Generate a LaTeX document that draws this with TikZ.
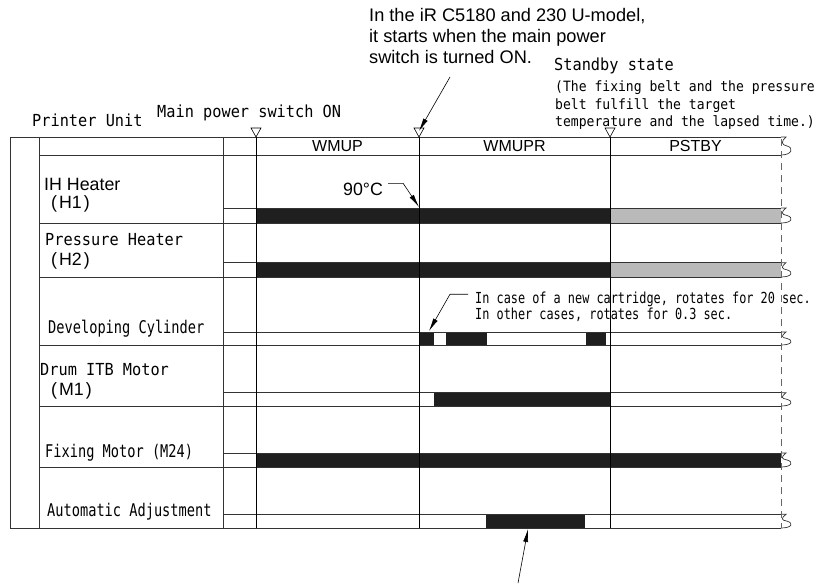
\documentclass[tikz,border=0pt]{standalone}
\usepackage{fontspec}
\setmainfont{Liberation Sans}
\newfontfamily\jmono[FakeStretch=0.92]{DejaVu Sans Mono}
\newfontfamily\jnarrow[FakeStretch=0.78]{DejaVu Sans Mono}
\usetikzlibrary{arrows.meta}

\begin{document}
\begin{tikzpicture}[
  x=1pt, y=-1pt,
  >={Latex[length=13pt,width=5pt]},
  every node/.style={inner sep=0pt, anchor=base west},
  rule/.style={draw=black!80, line width=0.7pt},
  phase/.style={draw=black, line width=0.8pt},
  onbar/.style={fill=black!88},
  idlebar/.style={fill=black!27},
  monolbl/.style={font=\fontsize{16.6}{19}\jmono},
  smallmono/.style={font=\fontsize{14.2}{16}\jmono},
  narrowlbl/.style={font=\fontsize{17.5}{20}\jnarrow},
  notetxt/.style={font=\fontsize{15.2}{18}\jnarrow},
  sanslbl/.style={font=\fontsize{17.8}{20}\selectfont},
  phaselbl/.style={font=\fontsize{16}{19}\selectfont, anchor=base},
  callout/.style={->, line width=0.6pt},
  marker/.style={draw=black, fill=white, line width=0.6pt},
]
  \useasboundingbox (0,0) rectangle (818,585);

  % signal bars
  \fill[onbar] (256,208) rectangle (610,223);
  \fill[idlebar] (610,208) rectangle (781,223);
  \fill[onbar] (256,262.7) rectangle (610,277);
  \fill[idlebar] (610,262.7) rectangle (781,277);
  \foreach \a/\z in {419/434, 445.7/487, 585.7/606.3}
    \fill[onbar] (\a,332) rectangle (\z,345);
  \fill[onbar] (434,392.7) rectangle (610,406);
  \fill[onbar] (256,453) rectangle (781,467);
  \fill[onbar] (486.3,514.3) rectangle (585,528);

  % rows, with the break mark at the right end
  \foreach \l/\t/\b in {10/137/155, 223/208/223, 223/262.7/277,
                        223/332/345, 223/392.7/406, 223/453/467,
                        223/514.3/528} {
    \pgfmathsetmacro\m{(\t+\b)/2}
    \draw[rule] (\l,\t) -- (781,\t);
    \draw[rule] (39,\b) -- (781,\b);
    \draw[rule] (781,\t) -- (786,\t) .. controls (781,\t+4) and (781,\m-1)
      .. (787,\m) .. controls (794,\m+2) and (792,\b) .. (781,\b);
  }

  % columns
  \draw[rule] (10,137) -- (10,528) -- (39,528);
  \draw[rule] (39,137) -- (39,528);
  \draw[rule] (223,137) -- (223,528);
  \foreach \x in {256,419,610} {
    \draw[phase] (\x,137) -- (\x,528);
    \draw[marker] (\x-5,128) -- (\x+5,128) -- (\x,137) -- cycle;
  }
  \draw[draw=black!60, line width=0.8pt, dash pattern=on 7pt off 5pt]
    (781,139) -- (781,528);

  % phase names
  \node[phaselbl] (wmup) at (337.5,152) {WMUP};
  \node[phaselbl] (wmupr) at (514.5,152) {WMUPR};
  \node[phaselbl] (pstby) at (695.5,152) {PSTBY};

  % headings
  \node[monolbl] (unit) at (32,127) {Printer Unit};
  \node[monolbl] (mainon) at (157,118) {Main power switch ON};

  % row labels
  \node[sanslbl] (ih) at (44,191) {IH Heater};
  \node[sanslbl] (ihcode) at (51,208) {(\kern2pt H1\kern2pt)};
  \node[monolbl] (press) at (45,245) {Pressure Heater};
  \node[sanslbl] (presscode) at (51,265) {(\kern2pt H2\kern2pt)};
  \node[narrowlbl] (devcyl) at (48,333) {Developing Cylinder};
  \node[monolbl] (drum) at (40,375) {Drum ITB Motor};
  \node[sanslbl] (drumcode) at (51,395) {(\kern2pt M1\kern2pt)};
  \node[narrowlbl] (fixmot) at (45,457) {Fixing Motor (M24)};
  \node[narrowlbl] (autoadj) at (47,516) {Automatic Adjustment};

  % notes on top
  \node[sanslbl, font=\fontsize{18.2}{21}\selectfont] (modelA) at (369,22)
    {In the iR C5180 and 230 U-model,};
  \node[sanslbl, font=\fontsize{18.2}{21}\selectfont] (modelB) at (369,43)
    {it starts when the main power};
  \node[sanslbl, font=\fontsize{18.2}{21}\selectfont] (modelC) at (369,64)
    {switch is turned ON.};
  \node[monolbl] (sbyA) at (554,71) {Standby state};
  \node[smallmono] (sbyB) at (555,92) {(The fixing belt and the pressure};
  \node[smallmono] (sbyC) at (555,110) {belt fulfill the target};
  \node[smallmono] (sbyD) at (555,127) {temperature and the lapsed time.)};

  \coordinate (modelTail) at (450,77);
  \coordinate (wmuprMark) at (419,131);
  \draw[callout] (modelTail) -- (wmuprMark);

  % 90 C
  \node[sanslbl] (t90) at (343,196) {90°C};
  \coordinate (ihOn) at (419,207);
  \draw[callout] ([xshift=5pt]t90.north east) -- ++(15,0) -- (ihOn);

  % developing cylinder note
  \node[notetxt] (devA) at (475,303)
    {In case of a new cartridge, rotates for 20 sec.};
  \node[notetxt] (devB) at (475,319) {In other cases, rotates for 0.3 sec.};
  \coordinate (devOn) at (429,331);
  \draw[callout] ([xshift=-7pt,yshift=-3pt]devA.north west) -- ++(-18,0)
    -- (devOn);

  % automatic adjustment
  \coordinate (adjTail) at (518,583);
  \coordinate (adjOn) at (528,529);
  \draw[callout] (adjTail) -- (adjOn);
\end{tikzpicture}
\end{document}
